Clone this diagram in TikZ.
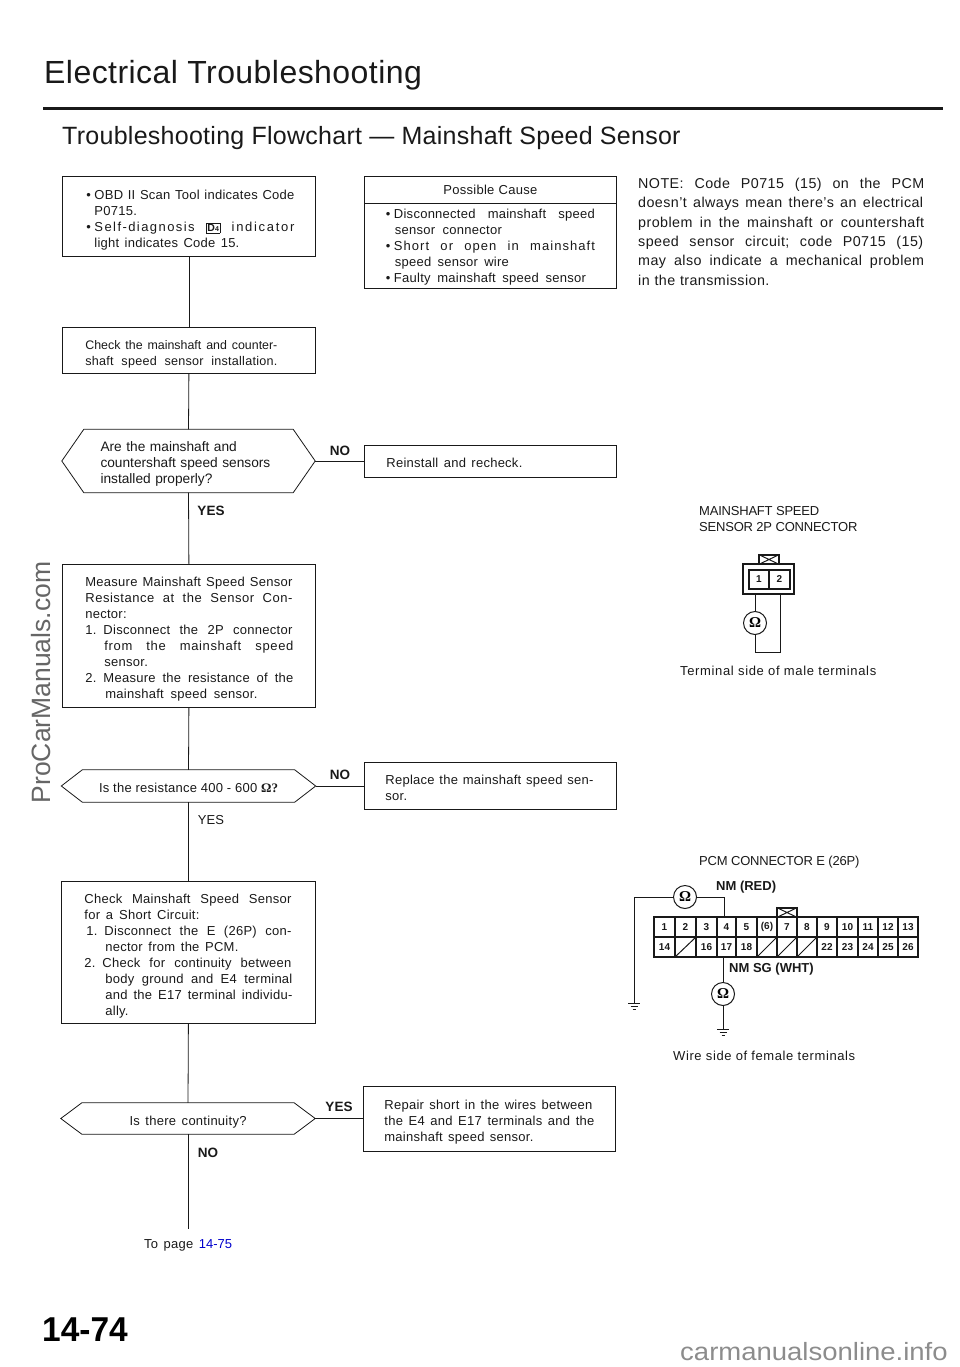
\documentclass[tikz,border=0pt]{standalone}
\usepackage{fontspec}
\setmainfont{Liberation Sans}
\newfontfamily\serifom{Liberation Serif}
\usetikzlibrary{calc}
\definecolor{ink}{gray}{0.1}
\newcommand{\jl}[2]{\leavevmode\hbox to #1{\frenchspacing\spaceskip=.25em plus 1fil\relax #2}}
\newcommand{\tight}[1]{{\addfontfeature{LetterSpace=-1.6}#1}}
\newcommand{\wide}[2][11]{{\addfontfeature{LetterSpace=#1}#2}}
\newcommand{\blt}{•\kern3.5pt}
\newcommand{\num}[1]{#1.\kern7pt}
\newcommand{\hexshape}[2]{\draw[conn] (#1.west) -- ($(#1.north west)+(#2,0)$) -- ($(#1.north east)+(-#2,0)$) -- (#1.east) -- ($(#1.south east)+(-#2,0)$) -- ($(#1.south west)+(#2,0)$) -- cycle;}
\tikzset{
  boxnode/.style={draw=ink,line width=.8pt,anchor=north west,inner sep=0pt,text=ink,align=left,
    font=\fontsize{13}{16}\selectfont\addfontfeature{LetterSpace=2}},
  down/.style={execute at begin node={\rule{0pt}{#1}}},
  decision/.style={inner sep=0pt,text=ink,align=left,font=\fontsize{13}{16}\selectfont\addfontfeature{LetterSpace=2}},
  conn/.style={draw=ink,line width=.8pt},
  ans/.style={font=\fontsize{13.5}{16}\selectfont\bfseries,text=ink,inner sep=0pt},
  capt/.style={font=\fontsize{13}{16}\selectfont,text=ink,inner sep=0pt,anchor=west,align=left},
  meter/.style={circle,draw=ink,line width=1pt,minimum size=23pt,inner sep=0pt,font=\fontsize{15}{15}\serifom\bfseries},
  pinlab/.style={font=\fontsize{10}{10}\selectfont\bfseries,text=ink,inner sep=0pt},
  wire/.style={draw=ink,line width=.8pt},
  conbody/.style={draw=ink,line width=1.2pt},
}
\begin{document}
\begin{tikzpicture}[x=1pt,y=-1pt]
\useasboundingbox (0,0) rectangle (960,1367);
% headings
\node[anchor=west,inner sep=0pt,text=ink,font=\fontsize{32}{36}\selectfont] (title) at (44,75) {\addfontfeature{LetterSpace=1.4}Electrical Troubleshooting};
\coordinate (ruleA) at (43,108.5); \coordinate (ruleB) at (943,108.5);
\draw[ink,line width=2.4pt] (ruleA) -- (ruleB);
\node[anchor=west,inner sep=0pt,text=ink,font=\fontsize{25}{30}\selectfont] (subtitle) at (62,138) {\addfontfeature{LetterSpace=1.1}Troubleshooting Flowchart — Mainshaft Speed Sensor};
\node[rotate=90,inner sep=0pt,text=black!60,font=\fontsize{26.5}{30}\selectfont] (mark) at (41,682.5) {ProCarManuals.com};
\node[anchor=west,inner sep=0pt,font=\fontsize{34.5}{36}\selectfont\bfseries] (pageno) at (42,1330) {\scalebox{.97}[1]{14-74}};
\node[anchor=base west,inner sep=0pt,text=black!45,font=\fontsize{25}{26}\selectfont] (site) at (680,1360) {\scalebox{1.1}[1]{carmanualsonline.info}};
% left column
\node[boxnode,down=17.5pt,minimum width=253pt,minimum height=80pt,text width=205pt] (b1) at (62,176) {%
\jl{208pt}{\blt OBD II Scan Tool indicates Code}\\
\hspace*{8pt}P0715.\\
\jl{208pt}{\blt\wide{Self-diagnosis} {\fboxsep=1pt\fbox{\fontsize{10.5}{10}\selectfont\bfseries D\fontsize{7}{7}\selectfont 4}} \wide[13]{indicator}}\\
\hspace*{8pt}\jl{145pt}{light indicates Code 15.}};
\node[boxnode,down=17.5pt,minimum width=253pt,minimum height=46pt,text width=207pt] (b2) at (62,327) {%
\jl{192pt}{\wide[0]{\fontsize{12.4}{16}\selectfont Check the mainshaft and counter-}}\\
\jl{192pt}{\fontsize{12.6}{16}\selectfont shaft speed sensor installation.}};
\node[decision,down=15.5pt,minimum width=253pt,minimum height=63pt,text width=176pt,font=\fontsize{13.7}{16}\selectfont] (d1) at (188.5,461) {%
Are the mainshaft and\\
countershaft speed sensors\\
installed properly?};
\hexshape{d1}{22}
\node[boxnode,down=15pt,minimum width=253pt,minimum height=143pt,text width=207pt] (b4) at (62,564) {%
\jl{207pt}{Measure Mainshaft Speed Sensor}\\
\jl{207pt}{\wide[4]{Resistance at the Sensor Con-}}\\
nector:\\
\jl{207pt}{\num{1}Disconnect the 2P connector}\\
\hspace*{19pt}\jl{189pt}{\wide[5]{from the mainshaft speed}}\\
\hspace*{19pt}sensor.\\
\jl{208pt}{\num{2}Measure the resistance of the}\\
\hspace*{20pt}\jl{152pt}{mainshaft speed sensor.}};
\node[decision,down=13.5pt,minimum width=254pt,minimum height=32pt,text width=179pt] (d2) at (188.5,786) {%
\jl{179pt}{Is the resistance 400 - 600 {\serifom\bfseries Ω?}}};
\hexshape{d2}{21}
\node[boxnode,down=16.5pt,minimum width=254pt,minimum height=142pt,text width=208pt] (b5) at (61,881) {%
\jl{207pt}{Check Mainshaft Speed Sensor}\\
\jl{115pt}{for a Short Circuit:}\\
\hspace*{2pt}\jl{205pt}{\num{1}Disconnect the E (26P) con-}\\
\hspace*{21pt}\jl{133pt}{nector from the PCM.}\\
\jl{207pt}{\num{2}Check for continuity between}\\
\hspace*{21pt}\jl{187pt}{body ground and E4 terminal}\\
\hspace*{21pt}\jl{187pt}{and the E17 terminal individu-}\\
\hspace*{21pt}ally.};
\node[decision,down=17.5pt,minimum width=254pt,minimum height=31pt,text width=117pt] (d3) at (188,1118.5) {%
\jl{117pt}{Is there continuity?}};
\hexshape{d3}{21}
\coordinate (toend) at (188,1229);
\draw[conn] (b1.south) -- (b2.north);
\draw[conn] (b2.south) -- (d1.north);
\draw[conn] (d1.south) -- (b4.north);
\draw[conn] (b4.south) -- (d2.north);
\draw[conn] (d2.south -| b5.north) -- (b5.north);
\draw[conn] (b5.south) -- (d3.north);
\draw[conn] (d3.south) -- (toend);
\node[ans] (a1) at (211,511) {YES};
\node[capt,anchor=center] (a2) at (211,820) {YES};
\node[ans] (a3) at (208,1153) {NO};
\node[capt,anchor=west] (topage) at (144,1245) {\jl{88pt}{\wide[2]{To page} \textcolor{blue!80!black}{14-75}}};
% middle column
\node[boxnode,minimum width=252pt,minimum height=27pt,align=center,text width=209pt] (pc) at (364,176) {Possible Cause};
\node[boxnode,down=11.5pt,minimum width=252pt,minimum height=85pt,text width=209pt] (pd) at (364,203) {%
\jl{209pt}{\blt Disconnected mainshaft speed}\\
\hspace*{9pt}\jl{107pt}{sensor connector}\\
\jl{209pt}{\blt\wide[8]{Short or open in mainshaft}}\\
\hspace*{9pt}\jl{114pt}{speed sensor wire}\\
\jl{200pt}{\blt Faulty mainshaft speed sensor}};
\node[boxnode,down=11.5pt,minimum width=252pt,minimum height=32pt,text width=208pt] (r1) at (364,445) {\jl{136pt}{Reinstall and recheck.}};
\node[boxnode,down=13.5pt,minimum width=252pt,minimum height=47pt,text width=210pt] (r2) at (364,762) {%
\jl{208pt}{Replace the mainshaft speed sen-}\\sor.};
\node[boxnode,down=15pt,minimum width=252pt,minimum height=65pt,text width=210pt] (r3) at (363,1086) {%
\jl{208pt}{Repair short in the wires between}\\
\jl{210pt}{the E4 and E17 terminals and the}\\
\jl{149pt}{mainshaft speed sensor.}};
\draw[conn] (d1.east) -- (d1.east -| r1.west);
\draw[conn] (d2.east) -- (d2.east -| r2.west);
\draw[conn] (d3.east) -- (d3.east -| r3.west);
\node[ans] (n1) at (340,451) {NO};
\node[ans] (n2) at (340,775) {NO};
\node[ans] (n3) at (339,1107) {YES};
% note
\node[anchor=north west,inner sep=0pt,text=ink,align=left,font=\fontsize{14.3}{19.3}\selectfont\addfontfeature{LetterSpace=3},text width=286pt] (note) at (638,178) {%
\jl{286pt}{NOTE: Code P0715 (15) on the PCM}\\
\jl{285pt}{doesn't always mean there's an electrical}\\
\jl{286pt}{problem in the mainshaft or countershaft}\\
\jl{285pt}{speed sensor circuit; code P0715 (15)}\\
\jl{286pt}{may also indicate a mechanical problem}\\
in the transmission.};
% 2P connector
\node[capt] (l2p) at (699,519) {\tight{MAINSHAFT SPEED}\\\tight{SENSOR 2P CONNECTOR}};
\node[draw=ink,line width=1.2pt,minimum width=51pt,minimum height=30pt,inner sep=0pt] (c2) at (768.5,579) {};
\node[draw=ink,line width=1.2pt,minimum width=20pt,minimum height=19pt,pinlab] (p1) at (759,579.5) {1};
\node[draw=ink,line width=1.2pt,minimum width=21pt,minimum height=19pt,pinlab] (p2) at (779.5,579.5) {2};
\node[draw=ink,line width=1.2pt,minimum width=20pt,minimum height=9pt,inner sep=0pt] (tab2) at (769,559.5) {};
\draw[ink,line width=1pt] (tab2.north west) -- (tab2.south east) (tab2.north east) -- (tab2.south west);
\node[meter] (m1) at (755,623) {Ω};
\coordinate (w1) at (755,652); \coordinate (w2) at (780,652); \coordinate (w0) at (755,594); \coordinate (w3) at (780,594);
\draw[wire] (w0) -- (m1) -- (w1) -- (w2) -- (w3);
\node[capt] (l3) at (680,671) {\addfontfeature{LetterSpace=5}Terminal side of male terminals};
% PCM connector
\node[capt] (l4) at (699,862) {\tight{PCM CONNECTOR E (26P)}};
\foreach \n/\xa/\xb/\ta/\tb in {1/654/675/1/14,2/675/696/2/,3/696/717/3/16,4/717/736/4/17,5/736/757/5/18,6/757/777/(6)/,7/777/797/7/,8/797/817/8/,9/817/837/9/22,10/837/858/10/23,11/858/878/11/24,12/878/898/12/25,13/898/918/13/26}{
  \path (\xa,917) coordinate (t\n) (\xb,937) coordinate (m\n) (\xb,957) coordinate (e\n);
  \path (\xa,937) coordinate (s\n);
  \draw[conbody] (t\n) rectangle (m\n);
  \draw[conbody] (s\n) rectangle (e\n);
  \node[pinlab] (u\n) at ($(t\n)!.5!(m\n)$) {\ta};
  \node[pinlab] (v\n) at ($(s\n)!.5!(e\n)$) {\tb};
}
\foreach \n in {2,6,7,8}{\draw[ink,line width=1pt] (s\n |- e\n) -- (m\n);}
\node[draw=ink,line width=1.2pt,minimum width=20pt,minimum height=9pt,inner sep=0pt] (tabE) at (787,912.5) {};
\draw[ink,line width=1pt] (tabE.north west) -- (tabE.south east) (tabE.north east) -- (tabE.south west);
\node[meter] (m2) at (685,897) {Ω};
\node[meter] (m3) at (723,994) {Ω};
\coordinate (a4) at (724,917); \coordinate (a4t) at (724,897);
\coordinate (gA) at (634,1003); \coordinate (gAc) at (634,897);
\coordinate (a17) at (723,957); \coordinate (gB) at (723,1029);
\draw[wire] (a4) -- (a4t) -- (m2) -- (gAc) -- (gA);
\draw[wire] (a17) -- (m3) -- (gB);
\draw[wire] ($(gA)+(-6,0)$) -- ($(gA)+(6,0)$) ($(gA)+(-3.5,3)$) -- ($(gA)+(3.5,3)$) ($(gA)+(-1.5,6)$) -- ($(gA)+(1.5,6)$);
\draw[wire] ($(gB)+(-6,0)$) -- ($(gB)+(6,0)$) ($(gB)+(-3.5,3)$) -- ($(gB)+(3.5,3)$) ($(gB)+(-1.5,6)$) -- ($(gB)+(1.5,6)$);
\node[ans,anchor=west,font=\fontsize{13}{14}\selectfont\bfseries] (nm) at (716,887) {NM (RED)};
\node[ans,anchor=west,font=\fontsize{13}{14}\selectfont\bfseries] (nmsg) at (729,969) {NM SG (WHT)};
\node[capt] (l5) at (673,1056) {\addfontfeature{LetterSpace=4.6}Wire side of female terminals};
\end{tikzpicture}
\end{document}
